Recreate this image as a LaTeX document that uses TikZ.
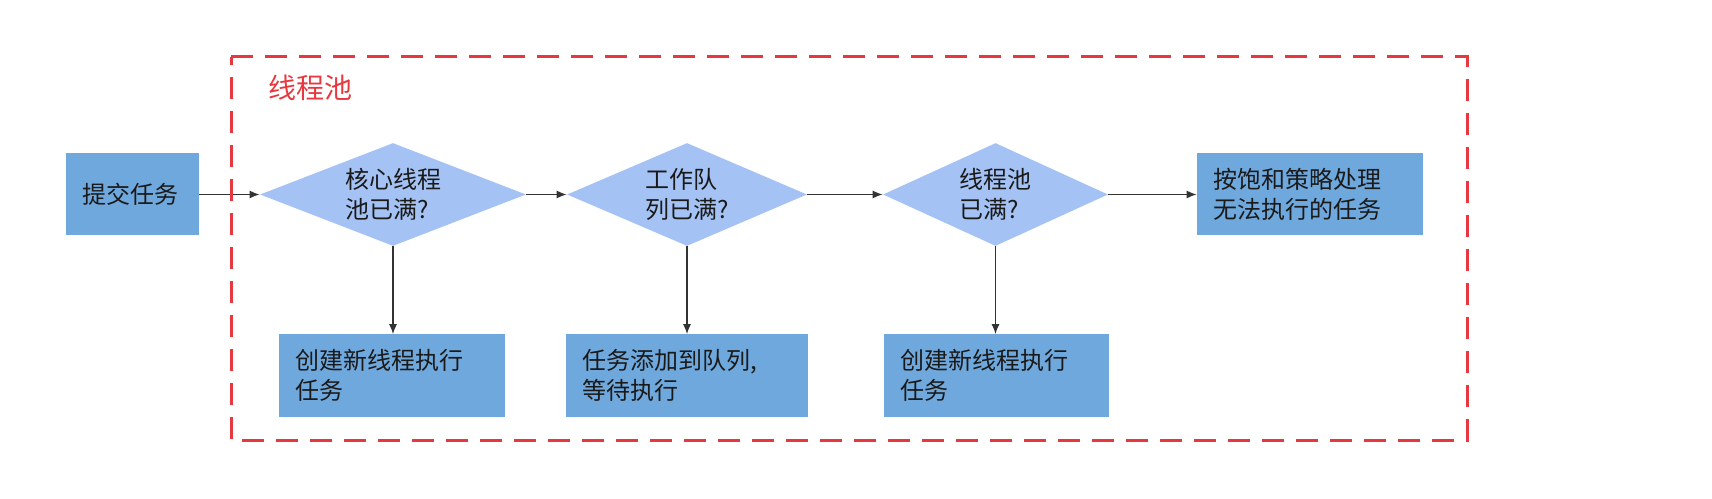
\documentclass[tikz,border=0pt]{standalone}
\usepackage{fontspec}
\setmainfont{Noto Sans CJK SC}
\usetikzlibrary{shapes.geometric,arrows.meta}
\definecolor{taskblue}{HTML}{6FA8DC}
\definecolor{checkblue}{HTML}{A4C2F4}
\definecolor{poolred}{HTML}{E8383F}
\definecolor{inkgray}{HTML}{1A1A1A}
\begin{document}
\begin{tikzpicture}[x=0.5pt,y=0.5pt,
  every node/.style={font=\fontsize{12pt}{15pt}\selectfont,text=inkgray},
  task/.style={rectangle,fill=taskblue,inner xsep=8pt,inner ysep=0pt,align=left,minimum height=41pt},
  check/.style={diamond,fill=checkblue,inner sep=0pt,aspect=2.6,align=left,minimum height=51.5pt},
  flow/.style={-{Latex[length=5pt,width=4pt]},draw=black!80,line width=0.6pt}]
\useasboundingbox (0,0) rectangle (1712,498);
% Entry task
\node[task,text width=50.5pt] (submit) at (132.5,303.5) {提交任务};
% Decisions inside the pool
\node[check,minimum width=133pt] (corefull) at (393,303.5) {核心线程\\池已满?};
\node[check,minimum width=120pt] (queuefull) at (687,303.5) {工作队\\列已满?};
\node[check,minimum width=112.5pt] (poolfull) at (995.5,303.5) {线程池\\已满?};
\node[task,text width=97pt] (reject) at (1310,303.5) {按饱和策略处理\\无法执行的任务};
% Outcomes
\node[task,text width=97pt] (newcore) at (392,122.5) {创建新线程执行\\任务};
\node[task,text width=105pt] (enqueue) at (687,122.5) {任务添加到队列,\\等待执行};
\node[task,text width=96.5pt] (newmax) at (996.5,122.5) {创建新线程执行\\任务};
% Flow
\draw[flow] (submit) -- (corefull);
\draw[flow] (corefull) -- (queuefull);
\draw[flow] (queuefull) -- (poolfull);
\draw[flow] (poolfull) -- (reject);
\draw[flow] (corefull.south) -- (corefull.south |- newcore.north);
\draw[flow] (queuefull.south) -- (queuefull.south |- enqueue.north);
\draw[flow] (poolfull.south) -- (poolfull.south |- newmax.north);
% Thread pool frame
\draw[poolred,line width=1.5pt,dash pattern=on 11pt off 6pt] (231,441) -- (1467,441) -- (1467,58) -- (231,58) -- cycle;
\node[text=poolred,font=\fontsize{14pt}{16pt}\selectfont] (pooltitle) at (310,410.5) {线程池};
\end{tikzpicture}
\end{document}
